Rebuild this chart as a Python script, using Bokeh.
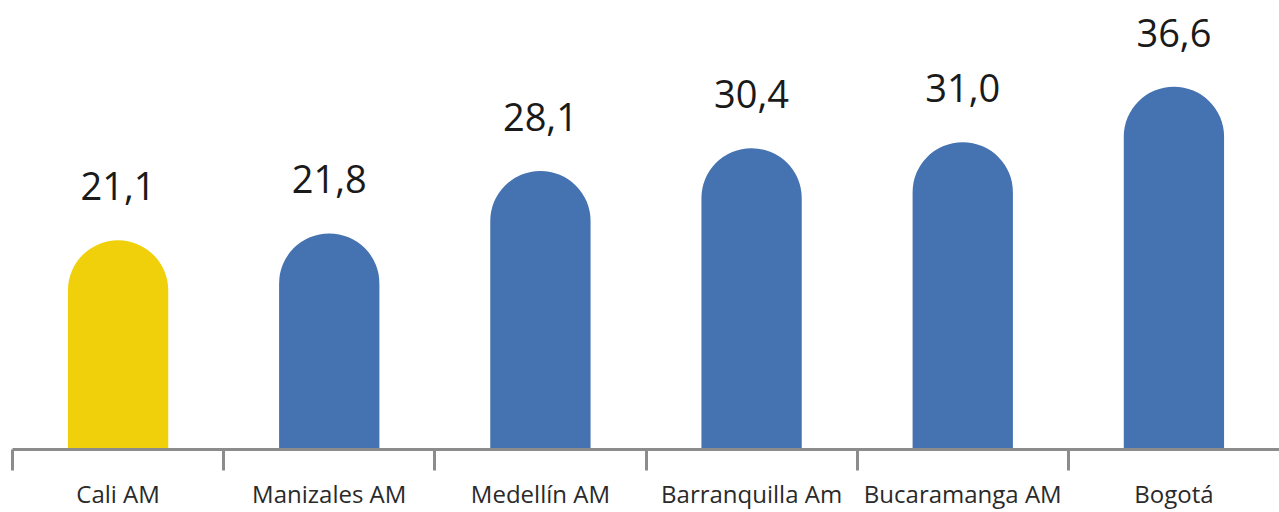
from bokeh.plotting import figure
from bokeh.models import Range1d, FixedTicker, ColumnDataSource
from bokeh.core.properties import value
from bokeh.embed import file_html
from bokeh.resources import INLINE

categories = ["Cali AM", "Manizales AM", "Medellín AM", "Barranquilla Am", "Bucaramanga AM", "Bogotá"]
values = [21.1, 21.8, 28.1, 30.4, 31.0, 36.6]
highlight = "Cali AM"

YELLOW = "#F0D00B"
BLUE = "#4572B0"
AXIS_GRAY = "#8C8C8C"

xs = [i + 0.5 for i in range(len(categories))]
labels = [f"{v:.1f}".replace(".", ",") for v in values]
colors = [YELLOW if c == highlight else BLUE for c in categories]
src = ColumnDataSource(dict(x=xs, top=values, label=labels, color=colors))

p = figure(width=1279, height=512, output_backend="svg", toolbar_location=None,
           x_range=Range1d(0, 6.0), y_range=Range1d(0, 45.3),
           min_border_left=12, min_border_right=0, min_border_top=0, min_border_bottom=60)

p.vbar(x="x", top="top", bottom=0, width=0.475, fill_color="color", line_color=None,
       source=src, border_radius=(50, 50, 0, 0))

p.text(x="x", y="top", text="label", source=src, y_offset=-54,
       text_align="center", text_baseline="alphabetic",
       text_font=value("Open Sans"), text_font_size="38px", text_color="#1A1A1A")

p.yaxis.visible = False
p.grid.visible = False
p.outline_line_color = None

ax = p.xaxis[0]
ax.ticker = FixedTicker(ticks=xs, minor_ticks=list(range(len(categories))))
ax.major_label_overrides = {x: c for x, c in zip(xs, categories)}
ax.major_tick_line_color = None
ax.major_tick_out = 0
ax.major_tick_in = 0
ax.minor_tick_out = 21
ax.minor_tick_in = 0
ax.minor_tick_line_color = AXIS_GRAY
ax.minor_tick_line_width = 3
ax.axis_line_color = AXIS_GRAY
ax.axis_line_width = 3
ax.major_label_standoff = 6
ax.major_label_text_font = "Open Sans"
ax.major_label_text_font_size = "24px"
ax.major_label_text_line_height = 0.55
ax.major_label_text_color = "#2A2A2A"

open("out.html", "w").write(file_html(p, INLINE))
